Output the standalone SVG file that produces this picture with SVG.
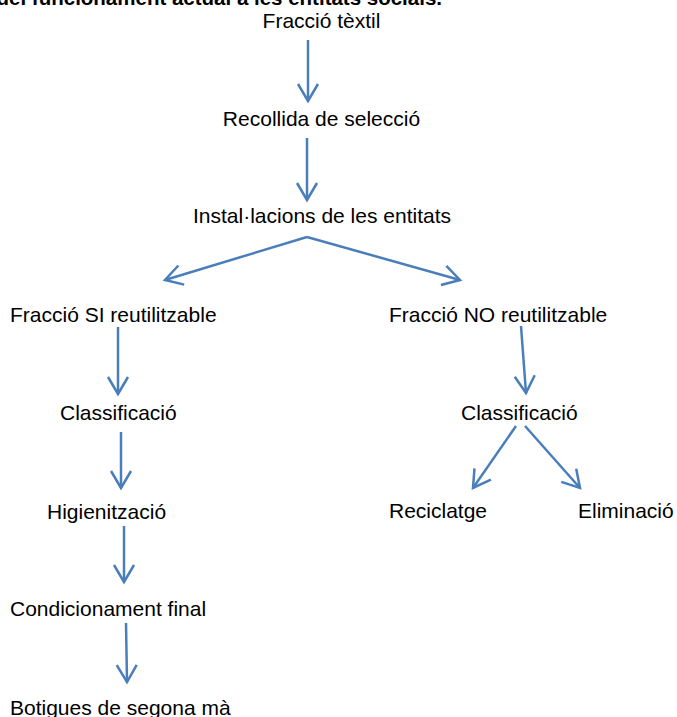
<svg xmlns="http://www.w3.org/2000/svg" width="677" height="717" viewBox="0 0 677 717">
<style>
text{font-family:"Liberation Sans",Arial,sans-serif;font-size:21px;fill:#000}
.title{font-weight:bold;font-size:20.5px}
.c{stroke:#4a7ebb;stroke-width:2.5;fill:none}
</style>
<defs>
<marker id="ah" viewBox="-20 -12 24 24" refX="0" refY="0" markerWidth="24" markerHeight="24" markerUnits="userSpaceOnUse" orient="auto">
<path d="M-17,-10 L0,0 L-17,10" fill="none" stroke="#4a7ebb" stroke-width="2.5"/>
</marker>
</defs>
<rect width="677" height="717" fill="#fff"/>
<text class="title" x="442" y="5" text-anchor="end">del funcionament actual a les entitats socials.</text>
<g id="n1"><text x="321.5" y="28" text-anchor="middle">Fracció tèxtil</text></g>
<g id="n2"><text x="321.5" y="126" text-anchor="middle">Recollida de selecció</text></g>
<g id="n3"><text x="322" y="223" text-anchor="middle">Instal·lacions de les entitats</text></g>
<g id="n4"><text x="10" y="322">Fracció SI reutilitzable</text></g>
<g id="n5"><text x="389" y="322">Fracció NO reutilitzable</text></g>
<g id="n6"><text x="60" y="420">Classificació</text></g>
<g id="n7"><text x="47" y="519">Higienització</text></g>
<g id="n8"><text x="10" y="616">Condicionament final</text></g>
<g id="n9"><text x="10" y="715">Botigues de segona mà</text></g>
<g id="n10"><text x="461" y="420">Classificació</text></g>
<g id="n11"><text x="389" y="518">Reciclatge</text></g>
<g id="n12"><text x="578" y="518">Eliminació</text></g>
<g id="connectors" class="c">
<line x1="308" y1="40" x2="308" y2="101" marker-end="url(#ah)"/>
<line x1="307" y1="138" x2="307" y2="200" marker-end="url(#ah)"/>
<line x1="307" y1="237" x2="165" y2="280" marker-end="url(#ah)"/>
<line x1="307" y1="237" x2="460" y2="280" marker-end="url(#ah)"/>
<line x1="118" y1="327" x2="118" y2="394" marker-end="url(#ah)"/>
<line x1="121" y1="432" x2="121" y2="488" marker-end="url(#ah)"/>
<line x1="124" y1="526" x2="124" y2="582" marker-end="url(#ah)"/>
<line x1="126" y1="623" x2="127" y2="682" marker-end="url(#ah)"/>
<line x1="521" y1="326" x2="526" y2="393" marker-end="url(#ah)"/>
<line x1="516" y1="426" x2="473" y2="488" marker-end="url(#ah)"/>
<line x1="525" y1="426" x2="580" y2="488" marker-end="url(#ah)"/>
</g>
</svg>
